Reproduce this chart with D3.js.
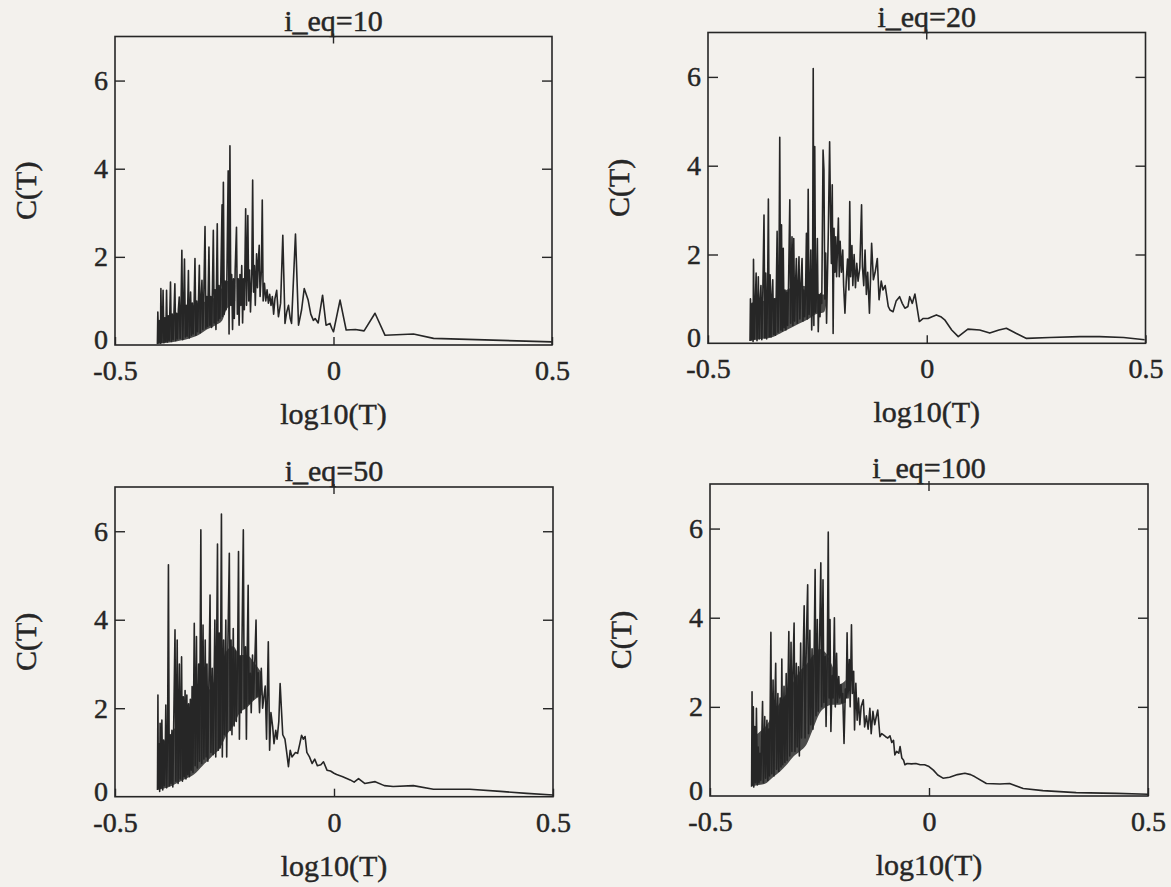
<!DOCTYPE html>
<html>
<head>
<meta charset="utf-8">
<script src="https://cdn.jsdelivr.net/npm/d3@7"></script>
<style>
  html, body { margin: 0; padding: 0; background: #f3f1ed; }
  svg { display: block; }
</style>
</head>
<body>
<div id="chart-container"></div>
<script>
// --- 1. DATA ---
const titles = ["i_eq=10", "i_eq=20", "i_eq=50", "i_eq=100"];
const xTicks = [-0.5, 0, 0.5];
const yTicks = [0, 2, 4, 6];
const xDomain = [-0.5, 0.5];
const yDomain = [0, 7];

// [log10(T), C(T)]
const eq10 = [
  [-0.403,0.02],[-0.402,0.75],[-0.400,0.05],[-0.398,0.55],[-0.396,0.04],[-0.395,1.28],[-0.393,0.06],[-0.391,0.6],
  [-0.390,1.24],[-0.388,0.05],[-0.386,0.62],[-0.384,0.08],[-0.382,1.24],[-0.380,0.07],[-0.378,0.66],[-0.376,0.10],
  [-0.373,1.43],[-0.371,0.08],[-0.369,0.7],[-0.367,0.12],[-0.365,0.75],[-0.363,1.39],[-0.361,0.10],[-0.359,0.72],
  [-0.357,0.14],[-0.355,0.8],[-0.353,1.09],[-0.351,0.15],[-0.349,0.82],[-0.347,2.15],[-0.345,0.12],[-0.343,0.85],
  [-0.341,1.95],[-0.339,0.18],[-0.337,0.9],[-0.335,0.20],[-0.332,1.69],[-0.330,0.16],[-0.327,1.2],[-0.325,0.22],
  [-0.323,0.95],[-0.321,0.25],[-0.319,0.92],[-0.317,1.96],[-0.315,0.22],[-0.313,1.0],[-0.311,0.30],[-0.309,0.98],
  [-0.307,1.81],[-0.305,0.28],[-0.303,1.05],[-0.301,1.47],[-0.299,0.35],[-0.297,1.0],[-0.294,2.69],[-0.292,0.38],
  [-0.290,1.1],[-0.288,0.42],[-0.285,2.22],[-0.283,0.45],[-0.281,1.1],[-0.279,0.40],[-0.277,1.3],[-0.275,2.6],
  [-0.273,0.5],[-0.271,1.25],[-0.269,0.35],[-0.266,2.75],[-0.264,0.55],[-0.262,1.35],[-0.260,0.6],[-0.258,1.4],
  [-0.255,3.18],[-0.254,0.65],[-0.252,3.69],[-0.250,0.7],[-0.248,1.45],[-0.246,0.8],[-0.244,1.5],[-0.241,3.95],
  [-0.239,0.25],[-0.237,4.52],[-0.235,0.9],[-0.233,1.6],[-0.231,0.35],[-0.229,1.5],[-0.227,0.6],[-0.225,1.7],
  [-0.222,2.67],[-0.220,0.7],[-0.218,1.5],[-0.216,0.45],[-0.214,1.6],[-0.212,0.9],[-0.210,1.8],[-0.208,0.5],
  [-0.206,1.5],[-0.204,0.8],[-0.201,3.09],[-0.199,0.9],[-0.196,2.94],[-0.194,1.0],[-0.192,1.7],[-0.190,0.75],
  [-0.187,1.6],[-0.185,3.74],[-0.183,1.2],[-0.181,1.8],[-0.179,0.9],[-0.176,2.07],[-0.174,1.3],[-0.172,1.9],
  [-0.170,2.26],[-0.168,1.1],[-0.165,1.7],[-0.163,3.29],[-0.161,1.0],[-0.158,1.4],[-0.155,1.0],[-0.152,1.25],
  [-0.149,0.95],[-0.146,1.15],[-0.143,0.9],[-0.140,1.1],[-0.137,0.7],[-0.134,1.05],[-0.130,1.24],[-0.126,0.64],
  [-0.121,0.95],[-0.116,2.49],[-0.111,0.49],[-0.107,0.75],[-0.103,0.9],[-0.099,0.6],[-0.096,0.49],[-0.087,2.52],
  [-0.080,0.45],[-0.073,0.8],[-0.067,1.28],[-0.058,1.02],[-0.052,0.7],[-0.046,0.56],[-0.042,0.6],[-0.035,0.5],
  [-0.025,1.13],[-0.017,0.45],[-0.008,0.49],[-0.004,0.38],[0.000,0.3],[0.015,1.02],[0.029,0.34],[0.050,0.35],
  [0.070,0.32],[0.095,0.72],[0.118,0.22],[0.183,0.25],[0.229,0.15],[0.500,0.07]
];

const eq20 = [
  [-0.404,0.05],[-0.403,1.0],[-0.401,0.08],[-0.399,0.9],[-0.397,0.04],[-0.396,1.89],[-0.394,0.1],[-0.392,0.85],
  [-0.390,1.58],[-0.388,0.06],[-0.386,0.9],[-0.385,1.5],[-0.383,0.1],[-0.381,0.95],[-0.379,1.3],[-0.377,0.08],
  [-0.375,0.95],[-0.372,2.89],[-0.370,0.12],[-0.368,1.58],[-0.366,0.1],[-0.364,1.0],[-0.362,3.25],[-0.360,0.15],
  [-0.358,1.54],[-0.356,0.14],[-0.354,1.05],[-0.352,1.43],[-0.350,0.2],[-0.348,1.0],[-0.346,0.18],[-0.344,1.1],
  [-0.342,2.52],[-0.340,0.25],[-0.338,1.1],[-0.336,4.64],[-0.334,0.3],[-0.332,2.67],[-0.330,0.28],[-0.328,2.14],
  [-0.326,0.35],[-0.324,1.2],[-0.322,0.3],[-0.320,1.15],[-0.318,0.4],[-0.316,1.25],[-0.313,3.23],[-0.311,0.45],
  [-0.308,2.4],[-0.306,0.4],[-0.304,2.36],[-0.302,0.5],[-0.300,1.3],[-0.298,1.91],[-0.296,0.45],[-0.294,1.3],
  [-0.292,1.95],[-0.290,0.55],[-0.288,1.25],[-0.285,1.91],[-0.283,0.5],[-0.281,1.2],[-0.279,0.6],[-0.277,1.15],
  [-0.275,2.48],[-0.273,0.55],[-0.271,3.47],[-0.269,0.65],[-0.267,1.1],[-0.265,2.1],[-0.263,0.3],[-0.261,1.1],
  [-0.2595,6.19],[-0.258,0.4],[-0.256,4.43],[-0.254,0.7],[-0.252,1.1],[-0.250,2.36],[-0.248,0.26],[-0.246,1.1],
  [-0.244,0.6],[-0.242,1.12],[-0.240,0.9],[-0.237,4.35],[-0.235,3.9],[-0.233,1.0],[-0.231,2.03],[-0.229,0.45],
  [-0.227,1.5],[-0.225,2.5],[-0.222,4.54],[-0.220,2.93],[-0.218,1.8],[-0.216,3.57],[-0.214,0.22],[-0.212,2.59],
  [-0.210,1.6],[-0.208,2.4],[-0.206,1.5],[-0.202,2.82],[-0.200,1.5],[-0.198,2.3],[-0.195,1.6],[-0.192,2.1],
  [-0.190,1.3],[-0.187,0.68],[-0.184,1.4],[-0.181,1.9],[-0.178,1.2],[-0.176,3.19],[-0.174,1.5],[-0.171,2.2],
  [-0.169,1.3],[-0.166,2.0],[-0.163,1.25],[-0.160,1.8],[-0.157,1.4],[-0.153,1.7],[-0.149,3.12],[-0.147,1.73],
  [-0.144,1.3],[-0.141,2.1],[-0.138,1.1],[-0.135,1.6],[-0.131,0.68],[-0.126,2.25],[-0.122,1.43],[-0.118,1.6],
  [-0.113,1.91],[-0.109,0.98],[-0.104,1.4],[-0.100,1.2],[-0.095,1.3],[-0.088,0.83],[-0.084,0.75],[-0.077,0.71],
  [-0.070,0.95],[-0.062,1.05],[-0.056,0.9],[-0.050,0.79],[-0.043,0.83],[-0.039,1.05],[-0.033,0.9],[-0.027,1.11],
  [-0.017,0.49],[-0.008,0.56],[0.003,0.56],[0.012,0.6],[0.022,0.64],[0.032,0.6],[0.041,0.53],[0.057,0.3],
  [0.072,0.15],[0.094,0.32],[0.121,0.3],[0.144,0.23],[0.165,0.3],[0.182,0.34],[0.205,0.22],[0.228,0.11],
  [0.281,0.13],[0.350,0.15],[0.395,0.15],[0.450,0.13],[0.498,0.08]
];

const eq50 = [
  [-0.403,0.15],[-0.402,2.3],[-0.401,0.2],[-0.399,1.2],[-0.398,0.12],[-0.397,1.66],[-0.395,0.2],[-0.393,1.73],
  [-0.391,0.15],[-0.389,1.28],[-0.387,0.25],[-0.385,1.2],[-0.384,2.07],[-0.382,0.2],[-0.380,1.3],[-0.378,5.24],
  [-0.376,0.25],[-0.374,1.4],[-0.372,0.3],[-0.370,1.5],[-0.368,0.22],[-0.366,1.6],[-0.363,3.77],[-0.361,0.35],
  [-0.358,3.54],[-0.356,0.3],[-0.353,3.0],[-0.351,0.4],[-0.348,3.16],[-0.346,0.35],[-0.344,2.26],[-0.342,0.45],
  [-0.340,2.4],[-0.338,0.4],[-0.336,2.3],[-0.334,0.5],[-0.332,2.1],[-0.330,0.45],[-0.328,2.2],[-0.326,0.6],
  [-0.324,2.49],[-0.322,0.55],[-0.319,3.92],[-0.317,0.7],[-0.314,3.62],[-0.312,0.65],[-0.309,3.0],[-0.307,0.8],
  [-0.304,6.03],[-0.302,0.75],[-0.299,3.88],[-0.297,0.85],[-0.294,3.54],[-0.292,0.9],[-0.290,3.0],[-0.288,0.8],
  [-0.283,4.56],[-0.281,1.0],[-0.278,2.9],[-0.276,0.95],[-0.272,3.99],[-0.270,0.9],[-0.266,5.71],[-0.264,1.05],
  [-0.262,3.7],[-0.260,1.1],[-0.257,6.39],[-0.255,0.9],[-0.252,3.54],[-0.250,1.4],[-0.247,3.99],[-0.245,0.9],
  [-0.242,3.6],[-0.239,5.5],[-0.237,1.5],[-0.235,3.54],[-0.233,1.4],[-0.230,3.8],[-0.228,1.6],[-0.225,3.3],
  [-0.223,1.7],[-0.220,3.2],[-0.218,5.54],[-0.216,1.3],[-0.214,3.16],[-0.212,1.9],[-0.207,6.03],[-0.205,2.0],
  [-0.202,3.39],[-0.200,1.3],[-0.198,3.3],[-0.196,4.78],[-0.194,2.1],[-0.191,2.79],[-0.189,1.9],[-0.186,3.2],
  [-0.184,2.2],[-0.181,3.0],[-0.178,3.99],[-0.176,2.26],[-0.173,2.8],[-0.170,1.9],[-0.166,2.9],[-0.163,2.0],
  [-0.160,2.26],[-0.157,2.5],[-0.154,1.3],[-0.150,3.5],[-0.147,1.05],[-0.144,1.9],[-0.140,1.58],[-0.137,1.2],
  [-0.133,1.5],[-0.130,1.3],[-0.126,1.7],[-0.123,2.56],[-0.120,1.97],[-0.117,1.4],[-0.112,1.3],[-0.108,1.0],
  [-0.104,0.68],[-0.100,1.05],[-0.096,0.9],[-0.092,0.95],[-0.088,1.0],[-0.083,0.98],[-0.078,1.2],[-0.074,1.39],
  [-0.070,1.3],[-0.066,1.36],[-0.062,1.0],[-0.056,0.9],[-0.050,0.75],[-0.044,0.85],[-0.038,0.7],[-0.030,0.72],
  [-0.024,0.79],[-0.016,0.6],[-0.008,0.58],[0.000,0.53],[0.006,0.5],[0.020,0.45],[0.037,0.38],[0.046,0.33],
  [0.056,0.41],[0.070,0.3],[0.094,0.34],[0.115,0.25],[0.135,0.23],[0.181,0.25],[0.227,0.17],[0.310,0.17],
  [0.380,0.12],[0.440,0.075],[0.500,0.04]
];

const eq100 = [
  [-0.405,0.21],[-0.404,2.34],[-0.403,0.25],[-0.401,2.0],[-0.400,0.2],[-0.398,1.56],[-0.396,0.3],[-0.394,1.97],
  [-0.392,0.25],[-0.390,1.1],[-0.388,0.3],[-0.386,0.96],[-0.384,0.35],[-0.382,1.2],[-0.380,2.12],[-0.378,0.3],
  [-0.375,1.78],[-0.373,0.4],[-0.370,1.7],[-0.368,0.35],[-0.366,1.5],[-0.364,0.45],[-0.361,3.67],[-0.359,0.5],
  [-0.356,2.6],[-0.354,0.45],[-0.352,2.1],[-0.350,2.98],[-0.348,0.6],[-0.345,2.3],[-0.343,0.55],[-0.340,2.2],
  [-0.338,0.65],[-0.336,3.07],[-0.334,0.7],[-0.331,2.46],[-0.329,0.75],[-0.326,2.75],[-0.324,0.8],[-0.322,2.4],
  [-0.320,3.69],[-0.318,0.9],[-0.315,3.45],[-0.313,1.0],[-0.311,2.7],[-0.308,3.88],[-0.306,1.0],[-0.303,2.98],
  [-0.301,1.1],[-0.298,2.9],[-0.296,0.9],[-0.293,3.43],[-0.291,1.3],[-0.288,2.8],[-0.285,4.27],[-0.283,1.3],
  [-0.280,3.5],[-0.277,4.74],[-0.275,1.4],[-0.272,3.72],[-0.270,1.6],[-0.267,3.3],[-0.265,1.5],[-0.262,3.4],
  [-0.260,5.08],[-0.258,1.8],[-0.255,3.96],[-0.253,1.9],[-0.250,3.4],[-0.247,5.23],[-0.245,2.0],[-0.242,4.85],
  [-0.240,2.1],[-0.237,3.13],[-0.235,1.56],[-0.232,3.3],[-0.230,5.92],[-0.228,2.2],[-0.226,3.96],[-0.224,1.45],
  [-0.221,2.7],[-0.219,2.2],[-0.216,4.0],[-0.214,2.0],[-0.211,3.2],[-0.209,2.1],[-0.206,2.68],[-0.204,2.2],
  [-0.201,2.5],[-0.199,2.1],[-0.197,2.3],[-0.194,1.18],[-0.191,2.4],[-0.189,2.2],[-0.187,3.66],[-0.185,2.2],
  [-0.182,3.06],[-0.180,2.0],[-0.177,3.84],[-0.175,2.3],[-0.172,2.8],[-0.170,1.48],[-0.167,2.53],[-0.164,1.7],
  [-0.161,2.2],[-0.158,1.6],[-0.155,2.0],[-0.150,2.16],[-0.147,1.55],[-0.143,1.8],[-0.139,1.5],[-0.135,1.97],
  [-0.132,1.4],[-0.128,1.9],[-0.124,1.6],[-0.121,1.75],[-0.117,1.93],[-0.112,1.33],[-0.108,1.4],[-0.104,1.37],
  [-0.099,1.33],[-0.094,1.3],[-0.089,1.35],[-0.085,1.2],[-0.081,1.25],[-0.078,0.92],[-0.074,1.0],[-0.069,0.96],
  [-0.066,1.11],[-0.062,0.85],[-0.058,0.8],[-0.055,0.7],[-0.050,0.73],[-0.040,0.72],[-0.030,0.73],[-0.020,0.7],
  [-0.010,0.7],[0.000,0.66],[0.010,0.58],[0.020,0.47],[0.032,0.4],[0.047,0.42],[0.065,0.48],[0.082,0.51],
  [0.095,0.48],[0.105,0.43],[0.131,0.28],[0.162,0.27],[0.184,0.28],[0.215,0.17],[0.260,0.12],[0.336,0.075],
  [0.428,0.06],[0.500,0.04]
];

// dense, solid-looking part of each curve: [log10(T), low, high]
const band10 = [
  [-0.403,0.02,0.55],[-0.39,0.04,0.6],[-0.37,0.06,0.65],[-0.35,0.1,0.75],[-0.33,0.15,0.85],
  [-0.31,0.22,0.95],[-0.29,0.35,1.0],[-0.27,0.45,1.1],[-0.255,0.55,1.3],[-0.245,0.8,1.45],
  [-0.235,0.9,1.45],[-0.225,1.0,1.35]
];
const band20 = [
  [-0.403,0.05,0.85],[-0.39,0.08,0.9],[-0.375,0.1,0.95],[-0.35,0.15,1.0],[-0.33,0.25,1.15],
  [-0.31,0.35,1.25],[-0.29,0.45,1.3],[-0.27,0.55,1.25],[-0.255,0.65,1.1],[-0.235,0.7,1.1],
  [-0.229,0.9,1.1]
];
const band50 = [
  [-0.403,0.15,1.2],[-0.382,0.2,1.3],[-0.36,0.3,1.6],[-0.34,0.4,1.9],[-0.32,0.5,2.0],
  [-0.30,0.7,2.2],[-0.28,0.9,2.5],[-0.26,1.1,2.9],[-0.245,1.4,3.3],[-0.23,1.6,3.4],
  [-0.215,1.9,3.2],[-0.20,2.0,3.2],[-0.18,2.2,3.0],[-0.165,2.3,2.8]
];
const band100 = [
  [-0.405,0.22,1.3],[-0.385,0.25,1.45],[-0.37,0.3,1.6],[-0.355,0.43,1.85],[-0.34,0.55,2.1],
  [-0.325,0.7,2.3],[-0.31,0.88,2.55],[-0.295,1.0,2.8],[-0.28,1.15,2.95],[-0.265,1.5,3.15],
  [-0.25,1.85,3.3],[-0.235,2.0,3.2],[-0.22,2.05,2.9],[-0.205,2.05,2.5],[-0.19,2.1,2.6]
];

const series = [eq10, eq20, eq50, eq100];
const bands = [band10, band20, band50, band100];

// --- 2. LAYOUT (panel boxes as they sit on the scan) ---
const width = 1171, height = 887;
const boxes = [
  { left: 115, right: 552, top: 36.5, bottom: 345 },
  { left: 708, right: 1145.5, top: 32.5, bottom: 343.3 },
  { left: 115, right: 553, top: 487, bottom: 796.7 },
  { left: 710, right: 1148, top: 484, bottom: 796 }
];
const ink = "#262626";
const fontFamily = "'Liberation Serif', 'Times New Roman', serif";

// --- 3. DRAW ---
const svg = d3.select("#chart-container").append("svg")
  .attr("width", width)
  .attr("height", height)
  .attr("viewBox", [0, 0, width, height])
  .style("background", "#f3f1ed")
  .style("font-family", fontFamily);

// scanned print: text looks a touch heavier than the plain face
function inked(sel) {
  return sel.attr("fill", ink).attr("stroke", ink).attr("stroke-width", 0.45);
}

boxes.forEach((b, k) => {
  const x = d3.scaleLinear().domain(xDomain).range([b.left, b.right]);
  const y = d3.scaleLinear().domain(yDomain).range([b.bottom, b.top]);
  const g = svg.append("g");

  // dense part of the curve prints as a nearly solid band
  const area = d3.area().x(d => x(d[0])).y0(d => y(d[1])).y1(d => y(d[2])).curve(d3.curveMonotoneX);
  g.append("path")
    .datum(bands[k])
    .attr("fill", ink)
    .attr("fill-opacity", 0.82)
    .attr("d", area);

  // data line, frame on top
  const line = d3.line().x(d => x(d[0])).y(d => y(d[1]));
  g.append("path")
    .datum(series[k])
    .attr("fill", "none")
    .attr("stroke", ink)
    .attr("stroke-width", 1.6)
    .attr("stroke-linejoin", "round")
    .attr("d", line);

  // left axis with labels, ticks pointing inward
  const yAxis = g.append("g")
    .attr("transform", `translate(${b.left},0)`)
    .call(d3.axisLeft(y).tickValues(yTicks).tickSizeInner(-10).tickSizeOuter(0)
      .tickPadding(7).tickFormat(d => String(d)));

  // right axis, ticks only
  const yAxisR = g.append("g")
    .attr("transform", `translate(${b.right},0)`)
    .call(d3.axisRight(y).tickValues(yTicks).tickSizeInner(-10).tickSizeOuter(0).tickFormat(""));

  // bottom axis
  const xAxis = g.append("g")
    .attr("transform", `translate(0,${b.bottom})`)
    .call(d3.axisBottom(x).tickValues(xTicks).tickSizeInner(-8).tickSizeOuter(0)
      .tickPadding(15).tickFormat(d => String(d)));

  [yAxis, yAxisR, xAxis].forEach(a => {
    a.select(".domain").remove();
    a.selectAll("line").attr("stroke", ink).attr("stroke-width", 1.4);
    inked(a.selectAll("text")).style("font-size", "28px").style("font-family", fontFamily);
  });
  yAxis.selectAll("line").filter(d => d === 0).remove();
  yAxisR.selectAll("line").filter(d => d === 0).remove();
  // lift the "0" on the y axis so it clears "-0.5"
  yAxis.selectAll("text").filter(d => d === 0).attr("dy", "0.12em");

  // small tick at 0 on the top edge (pokes through the frame a little)
  g.append("line")
    .attr("x1", x(0)).attr("x2", x(0))
    .attr("y1", b.top - 3).attr("y2", b.top + 7)
    .attr("stroke", ink).attr("stroke-width", 1.4);

  // frame
  g.append("rect")
    .attr("x", b.left).attr("y", b.top)
    .attr("width", b.right - b.left).attr("height", b.bottom - b.top)
    .attr("fill", "none")
    .attr("stroke", ink)
    .attr("stroke-width", 1.6);

  // title
  inked(g.append("text"))
    .attr("x", (b.left + b.right) / 2)
    .attr("y", b.top - 6)
    .attr("text-anchor", "middle")
    .style("font-size", "30px")
    .text(titles[k]);

  // x label
  inked(g.append("text"))
    .attr("x", (b.left + b.right) / 2)
    .attr("y", b.bottom + 79)
    .attr("text-anchor", "middle")
    .style("font-size", "30px")
    .text("log10(T)");

  // y label
  const cy = (b.top + b.bottom) / 2;
  const cx = b.left - 79;
  inked(g.append("text"))
    .attr("transform", `translate(${cx},${cy}) rotate(-90)`)
    .attr("text-anchor", "middle")
    .style("font-size", "30px")
    .text("C(T)");
});
</script>
</body>
</html>
